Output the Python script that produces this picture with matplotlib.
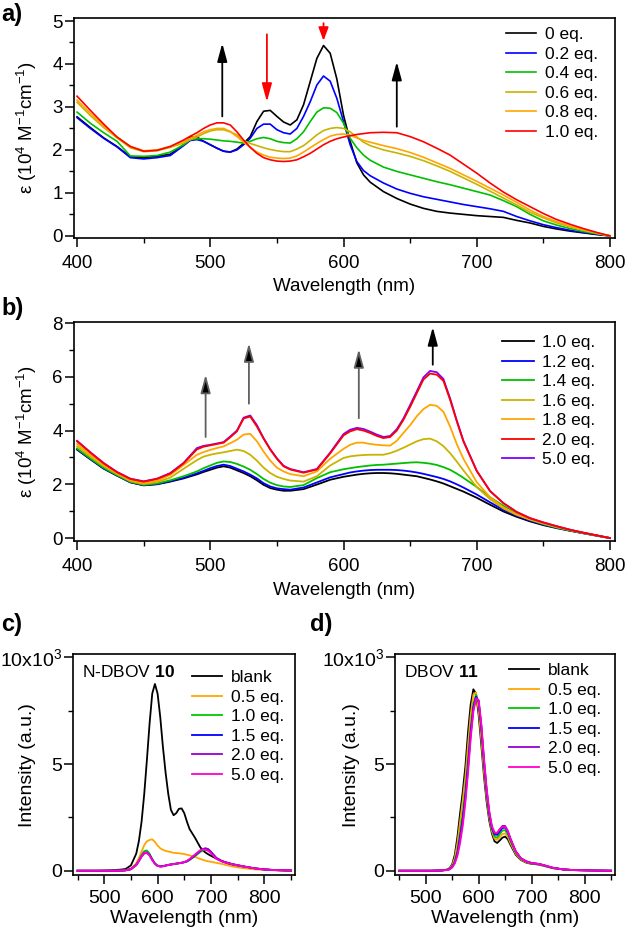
import matplotlib
matplotlib.use('Agg')
import matplotlib.pyplot as plt
from matplotlib.ticker import MultipleLocator, FixedLocator

plt.rcParams['font.family'] = ['Liberation Sans', 'DejaVu Sans']
plt.rcParams['mathtext.fontset'] = 'custom'
plt.rcParams['mathtext.rm'] = 'Liberation Sans'
plt.rcParams['mathtext.it'] = 'Liberation Sans:italic'
plt.rcParams['mathtext.bf'] = 'Liberation Sans:bold'

# ---------------- Panel a data ----------------
wl_a = [400, 410, 420, 430, 440, 450, 460, 470, 480, 485, 490, 495, 500, 505, 510, 515, 520, 525,
        530, 535, 540, 545, 550, 555, 560, 565, 570, 575, 580, 585, 590, 595, 600, 605, 610, 615,
        620, 630, 640, 650, 660, 670, 680, 690, 700, 710, 720, 730, 740, 750, 760, 770, 780, 790, 800]
labels_a = ['0 eq.', '0.2 eq.', '0.4 eq.', '0.6 eq.', '0.8 eq.', '1.0 eq.']
a_0eq = [2.77, 2.52, 2.28, 2.08, 1.84, 1.82, 1.85, 1.90, 2.12, 2.30, 2.30, 2.20, 2.12, 2.04, 1.97, 1.95, 2.02, 2.15,
         2.31, 2.66, 2.90, 2.92, 2.78, 2.65, 2.58, 2.70, 3.05, 3.59, 4.13, 4.43, 4.25, 3.65, 2.81, 2.20, 1.70, 1.42,
         1.25, 1.03, 0.87, 0.74, 0.64, 0.57, 0.53, 0.50, 0.47, 0.45, 0.43, 0.36, 0.30, 0.22, 0.16, 0.11, 0.07, 0.03, 0.00]
a_02eq = [2.75, 2.50, 2.27, 2.07, 1.82, 1.79, 1.82, 1.87, 2.10, 2.22, 2.24, 2.20, 2.12, 2.04, 1.97, 1.95, 2.00, 2.12,
          2.27, 2.50, 2.60, 2.60, 2.47, 2.40, 2.37, 2.50, 2.78, 3.12, 3.51, 3.72, 3.60, 3.20, 2.66, 2.12, 1.73, 1.52,
          1.40, 1.23, 1.09, 0.99, 0.91, 0.85, 0.79, 0.73, 0.68, 0.63, 0.57, 0.45, 0.35, 0.26, 0.19, 0.13, 0.08, 0.04, 0.00]
a_04eq = [2.88, 2.62, 2.40, 2.20, 1.86, 1.85, 1.87, 1.95, 2.12, 2.24, 2.26, 2.26, 2.25, 2.23, 2.21, 2.20, 2.18, 2.16,
          2.20, 2.26, 2.29, 2.26, 2.20, 2.17, 2.16, 2.26, 2.42, 2.66, 2.88, 2.98, 2.97, 2.87, 2.62, 2.27, 2.05, 1.88,
          1.76, 1.60, 1.50, 1.42, 1.34, 1.26, 1.19, 1.11, 1.03, 0.95, 0.82, 0.68, 0.50, 0.35, 0.25, 0.17, 0.10, 0.05, 0.00]
a_06eq = [3.11, 2.80, 2.52, 2.28, 2.05, 1.96, 1.98, 2.06, 2.16, 2.24, 2.30, 2.38, 2.44, 2.47, 2.47, 2.42, 2.35, 2.22,
          2.15, 2.10, 2.05, 2.01, 1.98, 1.96, 1.96, 2.02, 2.10, 2.22, 2.35, 2.45, 2.50, 2.52, 2.50, 2.42, 2.30, 2.18,
          2.10, 2.00, 1.93, 1.85, 1.75, 1.63, 1.50, 1.35, 1.20, 1.04, 0.88, 0.72, 0.55, 0.42, 0.30, 0.21, 0.13, 0.06, 0.00]
a_08eq = [3.16, 2.85, 2.56, 2.30, 2.08, 1.98, 2.00, 2.08, 2.20, 2.27, 2.34, 2.42, 2.47, 2.50, 2.50, 2.43, 2.31, 2.18,
          2.06, 1.95, 1.88, 1.83, 1.81, 1.80, 1.81, 1.86, 1.95, 2.05, 2.15, 2.24, 2.32, 2.36, 2.37, 2.34, 2.28, 2.22,
          2.18, 2.10, 2.03, 1.94, 1.83, 1.70, 1.57, 1.42, 1.27, 1.11, 0.95, 0.78, 0.60, 0.45, 0.33, 0.23, 0.14, 0.07, 0.00]
a_10eq = [3.25, 2.92, 2.60, 2.30, 2.08, 1.97, 1.99, 2.08, 2.23, 2.32, 2.40, 2.50, 2.58, 2.63, 2.63, 2.58, 2.42, 2.23,
          2.06, 1.92, 1.82, 1.77, 1.74, 1.73, 1.74, 1.77, 1.84, 1.92, 2.02, 2.12, 2.20, 2.26, 2.30, 2.33, 2.36, 2.38,
          2.40, 2.41, 2.40, 2.31, 2.19, 2.04, 1.88, 1.67, 1.46, 1.23, 1.02, 0.84, 0.68, 0.52, 0.38, 0.27, 0.17, 0.08, 0.00]
colors_a = ['#000000', '#0000FF', '#00C000', '#C8B400', '#FFA500', '#FF0000']

# ---------------- Panel b data ----------------
wl_b = [400, 410, 420, 430, 440, 450, 460, 470, 480, 490, 495, 500, 505, 510, 515, 520, 525, 530, 535, 540,
        545, 550, 555, 560, 570, 580, 590, 600, 605, 610, 615, 620, 625, 630, 635, 640, 645, 650, 655, 660,
        665, 670, 675, 680, 685, 690, 700, 710, 720, 730, 740, 750, 760, 770, 780, 790, 800]
labels_b = ['1.0 eq.', '1.2 eq.', '1.4 eq.', '1.6 eq.', '1.8 eq.', '2.0 eq.', '5.0 eq.']
b_10eq = [3.29, 2.93, 2.58, 2.32, 2.07, 1.96, 2.00, 2.10, 2.22, 2.37, 2.46, 2.54, 2.62, 2.67, 2.62, 2.52, 2.42, 2.30, 2.15, 1.98,
          1.86, 1.80, 1.76, 1.76, 1.82, 1.99, 2.17, 2.28, 2.32, 2.36, 2.39, 2.41, 2.42, 2.42, 2.41, 2.39, 2.36, 2.33, 2.30, 2.24,
          2.18, 2.11, 2.03, 1.93, 1.83, 1.73, 1.50, 1.24, 0.99, 0.79, 0.62, 0.48, 0.37, 0.27, 0.18, 0.09, 0.00]
b_12eq = [3.30, 2.94, 2.59, 2.33, 2.08, 1.97, 2.01, 2.12, 2.24, 2.41, 2.50, 2.60, 2.68, 2.73, 2.68, 2.58, 2.48, 2.36, 2.22, 2.04,
          1.92, 1.85, 1.82, 1.80, 1.88, 2.07, 2.26, 2.38, 2.44, 2.48, 2.51, 2.53, 2.54, 2.54, 2.54, 2.53, 2.51, 2.48, 2.44, 2.39,
          2.33, 2.27, 2.20, 2.11, 2.00, 1.88, 1.62, 1.33, 1.05, 0.83, 0.65, 0.50, 0.38, 0.28, 0.18, 0.09, 0.00]
b_14eq = [3.33, 2.96, 2.61, 2.34, 2.09, 1.98, 2.03, 2.15, 2.30, 2.48, 2.60, 2.70, 2.80, 2.85, 2.83, 2.76, 2.66, 2.54, 2.38, 2.20,
          2.06, 1.97, 1.92, 1.90, 1.97, 2.23, 2.45, 2.56, 2.60, 2.64, 2.67, 2.70, 2.72, 2.73, 2.75, 2.77, 2.79, 2.81, 2.82, 2.80,
          2.77, 2.72, 2.64, 2.54, 2.40, 2.24, 1.90, 1.52, 1.20, 0.90, 0.68, 0.52, 0.39, 0.28, 0.18, 0.09, 0.00]
b_16eq = [3.41, 3.03, 2.67, 2.38, 2.12, 2.01, 2.08, 2.25, 2.58, 2.90, 3.03, 3.10, 3.15, 3.19, 3.24, 3.29, 3.24, 3.10, 2.88, 2.62,
          2.42, 2.28, 2.20, 2.14, 2.10, 2.30, 2.70, 2.98, 3.04, 3.07, 3.09, 3.10, 3.10, 3.10, 3.16, 3.25, 3.36, 3.48, 3.60, 3.68,
          3.70, 3.60, 3.42, 3.16, 2.85, 2.52, 1.90, 1.45, 1.10, 0.86, 0.69, 0.54, 0.41, 0.30, 0.19, 0.10, 0.00]
b_18eq = [3.50, 3.10, 2.72, 2.42, 2.16, 2.05, 2.13, 2.35, 2.72, 3.10, 3.20, 3.28, 3.35, 3.41, 3.53, 3.66, 3.85, 3.88, 3.60, 3.22,
          2.88, 2.62, 2.48, 2.38, 2.30, 2.48, 2.95, 3.32, 3.47, 3.55, 3.55, 3.50, 3.47, 3.45, 3.44, 3.62, 3.91, 4.20, 4.53, 4.80,
          4.96, 4.92, 4.70, 4.15, 3.50, 2.95, 2.08, 1.52, 1.14, 0.88, 0.70, 0.55, 0.42, 0.30, 0.20, 0.10, 0.00]
b_20eq = [3.60, 3.18, 2.78, 2.45, 2.20, 2.10, 2.20, 2.40, 2.78, 3.30, 3.40, 3.45, 3.50, 3.55, 3.75, 3.97, 4.45, 4.52, 4.15, 3.70,
          3.29, 2.95, 2.67, 2.55, 2.43, 2.55, 3.15, 3.82, 3.97, 4.05, 4.00, 3.91, 3.80, 3.72, 3.76, 4.00, 4.40, 4.88, 5.39, 5.90,
          6.12, 6.08, 5.85, 5.15, 4.35, 3.60, 2.50, 1.75, 1.30, 0.97, 0.74, 0.58, 0.44, 0.31, 0.20, 0.10, 0.00]
b_50eq = [3.62, 3.19, 2.79, 2.46, 2.21, 2.11, 2.21, 2.42, 2.80, 3.35, 3.43, 3.47, 3.52, 3.57, 3.78, 4.00, 4.48, 4.56, 4.20, 3.72,
          3.31, 2.97, 2.69, 2.57, 2.45, 2.57, 3.18, 3.87, 4.03, 4.10, 4.06, 3.96, 3.85, 3.76, 3.80, 4.05, 4.45, 4.95, 5.46, 5.98,
          6.22, 6.17, 5.92, 5.20, 4.38, 3.62, 2.50, 1.75, 1.30, 0.97, 0.74, 0.58, 0.44, 0.31, 0.20, 0.10, 0.00]
colors_b = ['#000000', '#0000FF', '#00C000', '#C8B400', '#FFA500', '#FF0000', '#8000FF']

# ---------------- Panel c data (intensity in 10^3) ----------------
wl_c = [450, 470, 490, 510, 530, 540, 550, 560, 565, 570, 575, 580, 585, 590, 595, 600, 605, 610, 615, 620, 625,
        630, 635, 640, 645, 650, 655, 660, 670, 680, 685, 690, 695, 700, 710, 720, 730, 740, 760, 780, 800, 820, 850]
labels_cd = ['blank', '0.5 eq.', '1.0 eq.', '1.5 eq.', '2.0 eq.', '5.0 eq.']
c_blank = [0.00, 0.00, 0.00, 0.02, 0.05, 0.08, 0.25, 0.80, 1.40, 2.30, 3.60, 5.20, 6.90, 8.30, 8.75, 8.30, 7.20, 5.80, 4.60, 3.60, 2.85,
           2.60, 2.70, 2.90, 2.92, 2.70, 2.30, 1.95, 1.55, 1.10, 0.95, 0.85, 0.77, 0.70, 0.57, 0.45, 0.35, 0.28, 0.18, 0.10, 0.06, 0.03, 0.00]
c_05eq = [0.00, 0.00, 0.00, 0.00, 0.01, 0.02, 0.10, 0.35, 0.60, 0.90, 1.20, 1.38, 1.44, 1.47, 1.35, 1.18, 1.05, 0.98, 0.93, 0.90, 0.87,
          0.84, 0.83, 0.82, 0.80, 0.78, 0.75, 0.72, 0.65, 0.55, 0.51, 0.47, 0.44, 0.42, 0.37, 0.32, 0.26, 0.20, 0.12, 0.07, 0.04, 0.02, 0.00]
c_10eq = [0.00, 0.00, 0.00, 0.00, 0.00, 0.02, 0.08, 0.30, 0.50, 0.75, 0.92, 0.95, 0.80, 0.55, 0.35, 0.24, 0.21, 0.22, 0.25, 0.28, 0.30,
          0.32, 0.34, 0.36, 0.38, 0.40, 0.43, 0.50, 0.68, 0.88, 0.95, 0.98, 0.95, 0.85, 0.58, 0.45, 0.37, 0.30, 0.20, 0.12, 0.06, 0.03, 0.01]
c_15eq = [0.00, 0.00, 0.00, 0.00, 0.00, 0.02, 0.07, 0.27, 0.46, 0.68, 0.84, 0.86, 0.74, 0.52, 0.33, 0.23, 0.20, 0.21, 0.24, 0.27, 0.29,
          0.31, 0.33, 0.35, 0.37, 0.40, 0.44, 0.52, 0.72, 0.93, 1.01, 1.04, 1.00, 0.88, 0.60, 0.46, 0.38, 0.31, 0.21, 0.12, 0.06, 0.03, 0.01]
c_20eq = [0.00, 0.00, 0.00, 0.00, 0.00, 0.02, 0.07, 0.26, 0.45, 0.66, 0.81, 0.83, 0.72, 0.51, 0.33, 0.23, 0.20, 0.21, 0.24, 0.27, 0.29,
          0.31, 0.33, 0.35, 0.37, 0.40, 0.45, 0.53, 0.73, 0.94, 1.02, 1.05, 1.01, 0.89, 0.60, 0.46, 0.38, 0.31, 0.21, 0.12, 0.06, 0.03, 0.01]
c_50eq = [0.00, 0.00, 0.00, 0.00, 0.00, 0.02, 0.07, 0.28, 0.48, 0.70, 0.84, 0.85, 0.72, 0.50, 0.32, 0.22, 0.20, 0.21, 0.24, 0.27, 0.29,
          0.31, 0.33, 0.35, 0.37, 0.41, 0.46, 0.55, 0.76, 0.96, 1.00, 0.98, 0.93, 0.82, 0.56, 0.44, 0.36, 0.30, 0.20, 0.12, 0.06, 0.03, 0.01]
colors_cd = ['#000000', '#FFA500', '#00C800', '#0000FF', '#9900CC', '#FF00CC']

# ---------------- Panel d data (intensity in 10^3) ----------------
wl_d = [450, 470, 490, 510, 530, 540, 545, 550, 555, 560, 565, 570, 575, 580, 585, 590, 595, 600, 605, 610, 615,
        620, 625, 630, 635, 640, 645, 650, 655, 660, 670, 680, 690, 700, 710, 720, 740, 760, 780, 800, 820, 850]
d_blank = [0.00, 0.00, 0.00, 0.00, 0.02, 0.05, 0.12, 0.30, 0.75, 1.60, 2.70, 3.70, 4.90, 6.50, 7.80, 8.50, 8.30, 7.30, 5.90, 4.45, 3.25,
           2.35, 1.75, 1.38, 1.30, 1.42, 1.55, 1.60, 1.48, 1.22, 0.75, 0.50, 0.38, 0.32, 0.30, 0.25, 0.12, 0.06, 0.03, 0.02, 0.01, 0.00]
d_05eq = [0.00, 0.00, 0.00, 0.00, 0.02, 0.05, 0.10, 0.25, 0.60, 1.30, 2.30, 3.30, 4.40, 5.90, 7.30, 8.25, 8.35, 7.55, 6.20, 4.70, 3.45,
          2.50, 1.85, 1.50, 1.45, 1.58, 1.72, 1.75, 1.60, 1.30, 0.80, 0.52, 0.40, 0.34, 0.31, 0.26, 0.13, 0.06, 0.03, 0.02, 0.01, 0.00]
d_10eq = [0.00, 0.00, 0.00, 0.00, 0.01, 0.04, 0.08, 0.20, 0.45, 0.95, 1.80, 2.70, 3.80, 5.20, 6.70, 7.80, 8.25, 7.85, 6.60, 5.00, 3.65,
          2.62, 1.95, 1.60, 1.55, 1.72, 1.88, 1.90, 1.72, 1.40, 0.85, 0.55, 0.42, 0.35, 0.32, 0.27, 0.13, 0.06, 0.03, 0.02, 0.01, 0.00]
d_15eq = [0.00, 0.00, 0.00, 0.00, 0.01, 0.04, 0.08, 0.18, 0.40, 0.85, 1.60, 2.45, 3.55, 4.95, 6.50, 7.65, 8.15, 7.95, 6.75, 5.15, 3.75,
          2.70, 2.00, 1.70, 1.68, 1.85, 2.00, 2.02, 1.82, 1.48, 0.90, 0.58, 0.44, 0.36, 0.33, 0.28, 0.14, 0.06, 0.03, 0.02, 0.01, 0.00]
d_20eq = [0.00, 0.00, 0.00, 0.00, 0.01, 0.04, 0.07, 0.17, 0.38, 0.80, 1.50, 2.30, 3.40, 4.80, 6.35, 7.55, 8.10, 7.95, 6.80, 5.20, 3.80,
          2.75, 2.05, 1.75, 1.75, 1.95, 2.10, 2.10, 1.88, 1.52, 0.92, 0.58, 0.44, 0.36, 0.33, 0.28, 0.14, 0.06, 0.03, 0.02, 0.01, 0.00]
d_50eq = [0.00, 0.00, 0.00, 0.00, 0.01, 0.03, 0.06, 0.15, 0.35, 0.70, 1.30, 2.10, 3.20, 4.60, 6.20, 7.45, 8.05, 8.00, 6.90, 5.30, 3.90,
          2.80, 2.10, 1.80, 1.78, 1.95, 2.05, 2.05, 1.85, 1.50, 0.90, 0.57, 0.43, 0.36, 0.33, 0.28, 0.14, 0.06, 0.03, 0.02, 0.01, 0.00]

# arrows: (wavelength, tail value, head value, shaft colour, head colour, head length)
arrows_a = [(509, 2.78, 4.48, '#000000', '#000000', 1.1), (542.5, 4.69, 3.12, '#FF0000', '#FF0000', 1.1),
            (585, 4.95, 4.54, '#FF0000', '#FF0000', 0.8), (640, 2.54, 4.05, '#000000', '#000000', 1.1)]
arrows_b = [(496.5, 3.76, 6.08, '#606060', '#000000', 1.1), (529, 5.0, 7.25, '#606060', '#000000', 1.1),
            (611.5, 4.46, 7.03, '#606060', '#000000', 1.1), (667, 6.45, 7.85, '#000000', '#000000', 1.1)]

W, H = 629, 936
fig = plt.figure(figsize=(W / 100, H / 100), dpi=100)


def px_axes(l, t, r, b):
    return fig.add_axes([l / W, 1 - b / H, (r - l) / W, (b - t) / H])


def style(ax, fs):
    for s in ax.spines.values():
        s.set_linewidth(1.2)
    ax.tick_params(which='major', direction='out', length=6.5, width=1.1, labelsize=fs)
    ax.tick_params(which='minor', direction='out', length=3.5, width=1.0)
    ax.tick_params(axis='x', which='major', pad=5.5)
    ax.tick_params(axis='y', which='major', pad=1.5)


def draw_arrows(ax, arrows):
    for x, y0, y1, ec, fc, hl in arrows:
        ax.annotate('', xy=(x, y1), xytext=(x, y0),
                    arrowprops=dict(arrowstyle='-|>,head_length=%g,head_width=0.3' % hl,
                                    ec=ec, fc=fc, lw=1.3, mutation_scale=10,
                                    shrinkA=0, shrinkB=0))


ylab = 'ε (10$^{4}$ M$^{-1}$cm$^{-1}$)'
FS_AB = 13.5
FS_CD = 14
FS_LEG = 12.5

# ---- Panel a ----
ax_a = px_axes(74, 18, 615, 238)
series_a = [a_0eq, a_02eq, a_04eq, a_06eq, a_08eq, a_10eq]
for ys, c, lab in zip(series_a, colors_a, labels_a):
    ax_a.plot(wl_a, ys, color=c, lw=1.2, label=lab)
ax_a.set_xlim(397.7, 803.8)
ax_a.set_ylim(-0.05, 5.07)
ax_a.xaxis.set_major_locator(MultipleLocator(100))
ax_a.xaxis.set_minor_locator(MultipleLocator(50))
ax_a.yaxis.set_major_locator(MultipleLocator(1))
ax_a.yaxis.set_minor_locator(MultipleLocator(0.5))
style(ax_a, FS_AB)
ax_a.set_xlabel('Wavelength (nm)', fontsize=FS_AB)
ax_a.xaxis.set_label_coords(0.5, -0.184)
ax_a.set_ylabel(ylab, fontsize=FS_AB)
ax_a.yaxis.set_label_coords(-0.064, 0.5)
draw_arrows(ax_a, arrows_a)
ax_a.legend(loc='upper left', bbox_to_anchor=(0.7985, 0.958), frameon=False, fontsize=FS_LEG,
            handlelength=1.72, handletextpad=0.52, labelspacing=0.25, borderpad=0, borderaxespad=0)
fig.text(1 / W, 1 - 14 / H, 'a)', fontsize=17, fontweight='bold', va='center', ha='left')

# ---- Panel b ----
ax_b = px_axes(74, 322, 615, 541)
series_b = [b_10eq, b_12eq, b_14eq, b_16eq, b_18eq, b_20eq, b_50eq]
order_b = [0, 1, 2, 3, 4, 6, 5]
lines_b = {}
for i in order_b:
    ln, = ax_b.plot(wl_b, series_b[i], color=colors_b[i], lw=1.3, label=labels_b[i])
    lines_b[i] = ln
ax_b.set_xlim(397.7, 803.8)
ax_b.set_ylim(-0.11, 8.04)
ax_b.xaxis.set_major_locator(MultipleLocator(100))
ax_b.xaxis.set_minor_locator(MultipleLocator(50))
ax_b.yaxis.set_major_locator(MultipleLocator(2))
ax_b.yaxis.set_minor_locator(MultipleLocator(1))
style(ax_b, FS_AB)
ax_b.set_xlabel('Wavelength (nm)', fontsize=FS_AB)
ax_b.xaxis.set_label_coords(0.5, -0.185)
ax_b.set_ylabel(ylab, fontsize=FS_AB)
ax_b.yaxis.set_label_coords(-0.064, 0.5)
draw_arrows(ax_b, arrows_b)
ax_b.legend([lines_b[i] for i in range(7)], labels_b, loc='upper left', bbox_to_anchor=(0.791, 0.940),
            frameon=False, fontsize=FS_LEG, handlelength=1.84, handletextpad=0.46, labelspacing=0.25,
            borderpad=0, borderaxespad=0)
fig.text(1 / W, 1 - 308 / H, 'b)', fontsize=17, fontweight='bold', va='center', ha='left')


# ---- Panels c, d ----
def emission(ax, wl, series, title_plain, title_bold, leg_x, leg_y, ylab_x):
    for ys, c, lab in zip(series, colors_cd, labels_cd):
        ax.plot(wl, [v * 1000 for v in ys], color=c, lw=1.3, label=lab)
    ax.set_xlim(442, 857.6)
    ax.set_ylim(-200, 10140)
    ax.xaxis.set_major_locator(FixedLocator([500, 600, 700, 800]))
    ax.xaxis.set_minor_locator(FixedLocator([450, 550, 650, 750, 850]))
    ax.yaxis.set_major_locator(FixedLocator([0, 5000, 10000]))
    ax.yaxis.set_minor_locator(FixedLocator([2500, 7500]))
    ax.set_yticklabels(['0', '5', '10x10$^{3}$'])
    style(ax, FS_CD)
    ax.tick_params(axis='x', which='major', pad=4.5)
    ax.set_xlabel('Wavelength (nm)', fontsize=FS_CD)
    ax.xaxis.set_label_coords(0.5, -0.158)
    ax.set_ylabel('Intensity (a.u.)', fontsize=FS_CD)
    ax.yaxis.set_label_coords(ylab_x, 0.5)
    ax.text(0.04, 0.92, title_plain + ' $\\mathbf{' + title_bold + '}$', transform=ax.transAxes,
            fontsize=FS_LEG, va='center', ha='left')
    ax.legend(loc='upper left', bbox_to_anchor=(leg_x, leg_y), frameon=False, fontsize=FS_LEG,
              handlelength=1.75, handletextpad=0.48, labelspacing=0.25, borderpad=0, borderaxespad=0)


ax_c = px_axes(73.3, 654.3, 295, 875)
emission(ax_c, wl_c, [c_blank, c_05eq, c_10eq, c_15eq, c_20eq, c_50eq], 'N-DBOV', '10', 0.535, 0.928, -0.17)
fig.text(1 / W, 1 - 625 / H, 'c)', fontsize=17, fontweight='bold', va='center', ha='left')

ax_d = px_axes(395, 654.3, 615, 875)
emission(ax_d, wl_d, [d_blank, d_05eq, d_10eq, d_15eq, d_20eq, d_50eq], 'DBOV', '11', 0.518, 0.960, -0.16)
fig.text(310 / W, 1 - 625 / H, 'd)', fontsize=17, fontweight='bold', va='center', ha='left')

fig.savefig('out.png', dpi=100)
